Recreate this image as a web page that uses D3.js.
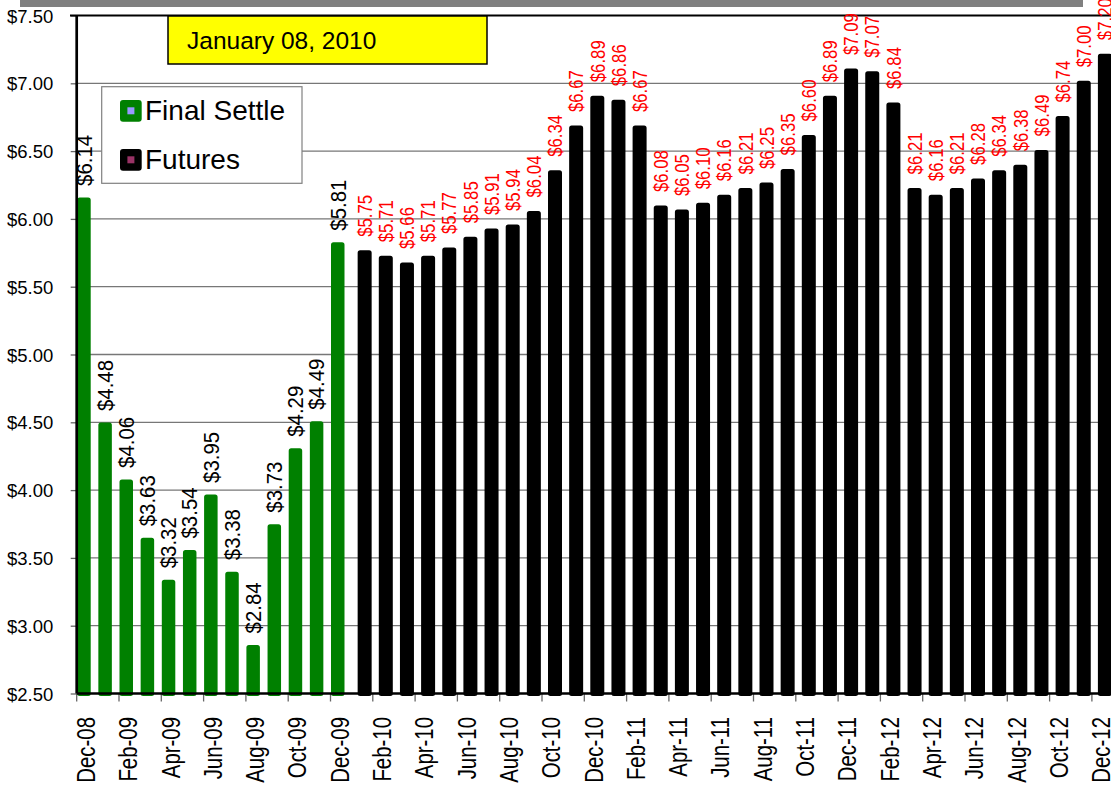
<!DOCTYPE html>
<html>
<head>
<meta charset="utf-8">
<script src="https://cdn.jsdelivr.net/npm/d3@7"></script>
<style>
html,body{margin:0;padding:0;background:#fff;overflow:hidden;}
svg{display:block;font-family:"Liberation Sans",Arial,sans-serif;}
</style>
</head>
<body>
<svg id="chart" width="1111" height="787"></svg>
<script>
// ---- data ----
const categories = ["Dec-08","Jan-09","Feb-09","Mar-09","Apr-09","May-09","Jun-09","Jul-09","Aug-09","Sep-09","Oct-09","Nov-09","Dec-09",
  "Jan-10","Feb-10","Mar-10","Apr-10","May-10","Jun-10","Jul-10","Aug-10","Sep-10","Oct-10","Nov-10","Dec-10",
  "Jan-11","Feb-11","Mar-11","Apr-11","May-11","Jun-11","Jul-11","Aug-11","Sep-11","Oct-11","Nov-11","Dec-11",
  "Jan-12","Feb-12","Mar-12","Apr-12","May-12","Jun-12","Jul-12","Aug-12","Sep-12","Oct-12","Nov-12","Dec-12"];
const finalSettleCats = categories.slice(0, 13);
const finalSettle = [6.14, 4.48, 4.06, 3.63, 3.32, 3.54, 3.95, 3.38, 2.84, 3.73, 4.29, 4.49, 5.81];
const futuresCats = categories.slice(13);
const futures = [5.75, 5.71, 5.66, 5.71, 5.77, 5.85, 5.91, 5.94, 6.04, 6.34, 6.67, 6.89,
  6.86, 6.67, 6.08, 6.05, 6.10, 6.16, 6.21, 6.25, 6.35, 6.60, 6.89, 7.09,
  7.07, 6.84, 6.21, 6.16, 6.21, 6.28, 6.34, 6.38, 6.49, 6.74, 7.00, 7.20];
const yTicks = [2.5, 3.0, 3.5, 4.0, 4.5, 5.0, 5.5, 6.0, 6.5, 7.0, 7.5];
const xTickLabels = categories.filter((d, i) => i % 2 === 0);
const seriesNames = ["Final Settle", "Futures"];
const dateTitle = "January 08, 2010";

// ---- layout ----
const svg = d3.select("#chart");
const FONT = '"Liberation Sans",Arial,sans-serif';
const x0 = 76.7, bandW = 21.15;
const x = d3.scaleBand().domain(categories).range([x0, x0 + categories.length * bandW]).paddingInner(0).paddingOuter(0);
const y = d3.scaleLinear().domain([2.5, 7.5]).range([693.5, 15.5]);
const money = v => "$" + v.toFixed(2);

// top gray strip
svg.append("rect").attr("x", 20).attr("y", 0).attr("width", 1063).attr("height", 7).attr("fill", "#808080");

// gridlines
svg.append("g").selectAll("line").data(yTicks.slice(1, -1)).join("line")
  .attr("x1", x0).attr("x2", 1111).attr("y1", d => y(d)).attr("y2", d => y(d))
  .attr("stroke", "#777").attr("stroke-width", 1.3);

// y axis
const yAxis = svg.append("g").attr("transform", `translate(${x0},0)`)
  .call(d3.axisLeft(y).tickValues(yTicks).tickSize(6).tickPadding(0).tickFormat(money));
yAxis.select(".domain").remove();
yAxis.selectAll(".tick line").attr("stroke", "#666").attr("stroke-width", 1.3);
yAxis.selectAll(".tick text").attr("x", 53.3 - x0).attr("dy", "0.36em")
  .attr("font-family", FONT).attr("font-size", 18.5).attr("fill", "#000").attr("text-anchor", "end");

// x axis ticks
const xAxis = svg.append("g").attr("transform", `translate(0,${y(2.5)})`)
  .call(d3.axisBottom(x).tickValues(xTickLabels).tickSize(0).tickFormat(""));
xAxis.select(".domain").remove();
svg.append("g").selectAll("line").data(xTickLabels).join("line")
  .attr("x1", d => x(d)).attr("x2", d => x(d)).attr("y1", y(2.5)).attr("y2", y(2.5) + 8)
  .attr("stroke", "#666").attr("stroke-width", 1.3);

// x labels (rotated, condensed)
svg.append("g").selectAll("text").data(xTickLabels).join("text")
  .attr("transform", d => `translate(${x(d) + x.bandwidth() / 2},717) rotate(-90) scale(0.8,1)`)
  .attr("dy", "0.3em").attr("text-anchor", "end")
  .attr("font-family", FONT).attr("font-size", 25.5).attr("fill", "#000").text(d => d);

// bars
const SW = 5;
svg.append("g").selectAll("rect").data(finalSettle).join("rect")
  .attr("x", (d, i) => x(finalSettleCats[i]) + 0.5 + SW / 2).attr("width", 8.5)
  .attr("y", d => y(d)).attr("height", d => y(2.5) - y(d))
  .attr("fill", "#008000").attr("stroke", "#008000").attr("stroke-width", SW).attr("stroke-linejoin", "round");
svg.append("g").selectAll("rect").data(futures).join("rect")
  .attr("x", (d, i) => x(futuresCats[i]) + 6 + SW / 2).attr("width", 9)
  .attr("y", d => y(d)).attr("height", d => y(2.5) - y(d))
  .attr("fill", "#000").attr("stroke", "#000").attr("stroke-width", SW).attr("stroke-linejoin", "round");

// axis lines & top border
svg.append("line").attr("x1", x0).attr("x2", 1111).attr("y1", y(2.5)).attr("y2", y(2.5)).attr("stroke", "#000").attr("stroke-width", 2.5);
svg.append("line").attr("x1", x0).attr("x2", x0).attr("y1", y(7.5)).attr("y2", y(2.5)).attr("stroke", "#000").attr("stroke-width", 2.7);
svg.append("line").attr("x1", 70).attr("x2", 1111).attr("y1", y(7.5)).attr("y2", y(7.5)).attr("stroke", "#000").attr("stroke-width", 2);

// value labels
svg.append("g").selectAll("text").data(finalSettle).join("text")
  .attr("transform", (d, i) => `translate(${x(finalSettleCats[i]) + 0.5 + 6.75},${y(d) - 14}) rotate(-90) scale(0.95,1)`)
  .attr("dy", "0.36em").attr("text-anchor", "start")
  .attr("font-family", FONT).attr("font-size", 21.5).attr("fill", "#000").text(d => money(d));
svg.append("g").selectAll("text").data(futures).join("text")
  .attr("transform", (d, i) => `translate(${x(futuresCats[i]) + 6 + 7},${y(d) - 16}) rotate(-90) scale(0.84,1)`)
  .attr("dy", "0.36em").attr("text-anchor", "start")
  .attr("font-family", FONT).attr("font-size", 20).attr("fill", "#ff0000").text(d => money(d));

// title box
svg.append("rect").attr("x", 168).attr("y", 16).attr("width", 319).attr("height", 48)
  .attr("fill", "#ffff00").attr("stroke", "#000").attr("stroke-width", 1.5);
svg.append("text").attr("x", 187).attr("y", 48.5).attr("font-family", FONT).attr("font-size", 24.5)
  .attr("fill", "#000").text(dateTitle);

// legend
const lg = svg.append("g");
lg.append("rect").attr("x", 101.7).attr("y", 86.7).attr("width", 200.3).attr("height", 96.6)
  .attr("fill", "#fff").attr("stroke", "#808080").attr("stroke-width", 1.2);
const swatch = [{fill: "#008000", inner: "#9999ff"}, {fill: "#000", inner: "#993366"}];
const legY = [100, 149];
seriesNames.forEach((name, i) => {
  lg.append("rect").attr("x", 120).attr("y", legY[i]).attr("width", 21.7).attr("height", 21.7).attr("rx", 3)
    .attr("fill", swatch[i].fill);
  lg.append("rect").attr("x", 127.4).attr("y", legY[i] + 7.3).attr("width", 7).attr("height", 7)
    .attr("fill", swatch[i].inner);
  lg.append("text").attr("x", 145).attr("y", legY[i] + 20.3).attr("font-family", FONT).attr("font-size", 28)
    .attr("fill", "#000").text(name);
});
</script>
</body>
</html>
